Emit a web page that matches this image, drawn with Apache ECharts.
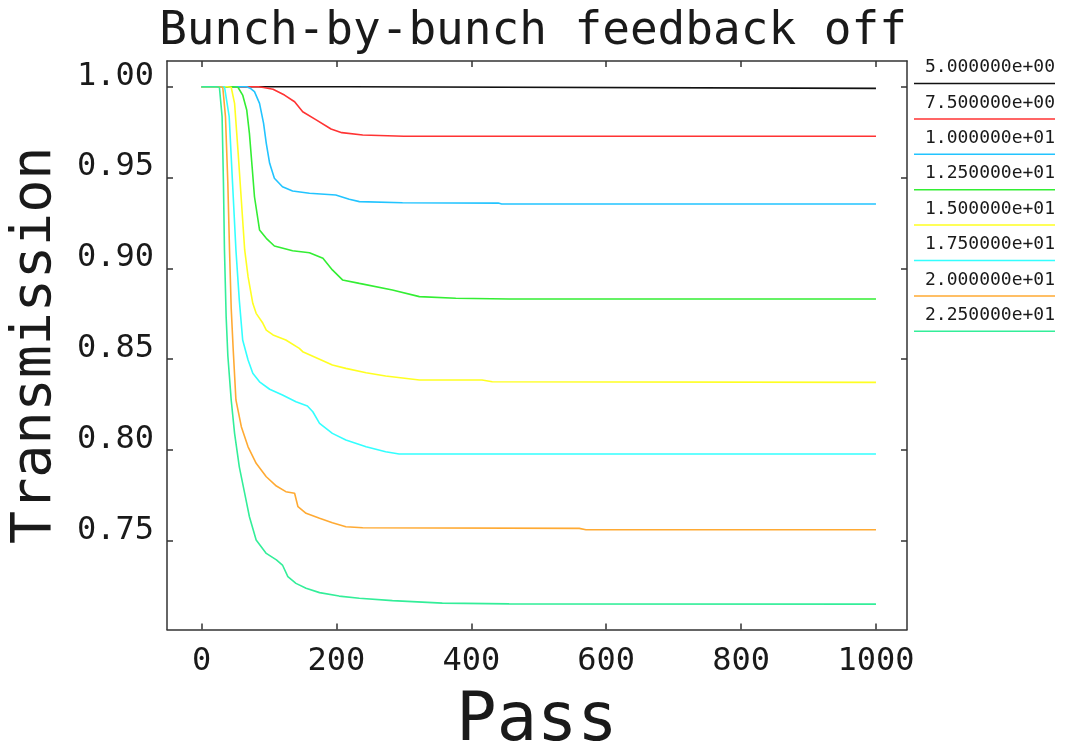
<!DOCTYPE html>
<html>
<head>
<meta charset="utf-8">
<script src="https://cdn.jsdelivr.net/npm/echarts@6/dist/echarts.min.js"></script>
<style>
  html, body { margin: 0; padding: 0; background: #ffffff; }
  #chart { width: 1066px; height: 751px; }
</style>
</head>
<body>
<div id="chart"></div>
<script>
// Transmission vs. pass number, one curve per setting (legend labels).
const seriesNames = ['5.000000e+00', '7.500000e+00', '1.000000e+01', '1.250000e+01',
                     '1.500000e+01', '1.750000e+01', '2.000000e+01', '2.250000e+01'];
const lineColors = ['#111111', '#ff3333', '#22c4ff', '#33ee33',
                    '#ffff22', '#33ffff', '#ffaa33', '#33ee99'];

const xTicks = [0, 200, 400, 600, 800, 1000];
const yTicks = [0.75, 0.80, 0.85, 0.90, 0.95, 1.00];

// [pass, transmission]
const curve05 = [[0, 1.0], [220, 1.0], [222, 0.9991], [1000, 0.9991]];
const curve075 = [[0, 1.0], [84, 1.0], [92, 0.9996], [106, 0.9986], [123, 0.9954], [138, 0.9917],
  [150, 0.9862], [170, 0.9817], [192, 0.9767], [208, 0.9747], [239, 0.9734], [300, 0.9727], [1000, 0.9727]];
const curve10 = [[0, 1.0], [67, 1.0], [72, 0.9992], [78.5, 0.9973], [86, 0.9908], [92, 0.9798],
  [96, 0.9688], [101, 0.9578], [108, 0.9496], [120, 0.9449], [135, 0.9426], [160, 0.9413],
  [199, 0.9404], [219, 0.9380], [234, 0.9367], [298, 0.9361], [440, 0.9359], [445, 0.9354], [1000, 0.9354]];
const curve125 = [[0, 1.0], [46, 1.0], [54, 0.9997], [61, 0.9954], [67, 0.9872], [71, 0.9743],
  [75, 0.9559], [78.5, 0.9394], [86, 0.9211], [96, 0.9165], [108, 0.9123], [135, 0.9097],
  [160, 0.9086], [180, 0.9055], [194, 0.8991], [209, 0.8936], [234, 0.8917], [283, 0.8880],
  [323, 0.8844], [377, 0.8835], [456, 0.8831], [1000, 0.8831]];
const curve15 = [[0, 1.0], [38, 1.0], [44, 0.9997], [49, 0.9908], [54, 0.9651], [59, 0.9376],
  [64, 0.9101], [69, 0.8954], [76, 0.8807], [81, 0.8752], [91, 0.8697], [96, 0.8660],
  [106, 0.8633], [125, 0.8605], [145, 0.8559], [150, 0.8541], [175, 0.8499], [194, 0.8467],
  [214, 0.8449], [244, 0.8425], [273, 0.8407], [323, 0.8385], [416, 0.8385], [431, 0.8375], [1000, 0.8372]];
const curve175 = [[0, 1.0], [34, 1.0], [36.5, 0.9997], [41, 0.9835], [46, 0.9468], [51, 0.9101],
  [56, 0.8825], [61, 0.8605], [69, 0.8495], [76, 0.8422], [86, 0.8375], [101, 0.8334],
  [120, 0.8302], [140, 0.8265], [157, 0.8242], [165, 0.8210], [175, 0.8146], [194, 0.8091],
  [214, 0.8054], [244, 0.8017], [273, 0.7990], [293, 0.7977], [1000, 0.7977]];
const curve20 = [[0, 1.0], [27, 1.0], [31.5, 0.9997], [35.5, 0.9835], [39, 0.9468], [41.5, 0.9101],
  [44, 0.8780], [47, 0.8550], [51, 0.8275], [59, 0.8128], [69, 0.8017], [81, 0.7926],
  [96, 0.7852], [111, 0.7801], [125, 0.7770], [138, 0.7761], [143, 0.7687], [155, 0.7651],
  [175, 0.7623], [194, 0.7599], [214, 0.7577], [239, 0.7571], [560, 0.7568], [570, 0.7560], [1000, 0.7560]];
const curve225 = [[0, 1.0], [22, 1.0], [26.5, 0.9997], [30.5, 0.9835], [32.5, 0.9468], [34, 0.9101],
  [36.5, 0.8733], [39, 0.8520], [44, 0.8275], [49, 0.8091], [56, 0.7907], [64, 0.7761],
  [71, 0.7632], [81, 0.7504], [96, 0.7430], [111, 0.7394], [120, 0.7366], [128, 0.7302],
  [140, 0.7265], [155, 0.7238], [175, 0.7214], [204, 0.7195], [234, 0.7183], [283, 0.7170],
  [357, 0.7156], [456, 0.7152], [1000, 0.7151]];

const curves = [curve05, curve075, curve10, curve125, curve15, curve175, curve20, curve225];

const MONO = '"DejaVu Sans Mono", "Liberation Mono", monospace';
const INK = '#1a1a1a';
const FRAME = '#333333';

// legend: label with a coloured rule underneath
const legendRich = {
  t: { fontFamily: MONO, fontSize: 18, color: INK, width: 141, align: 'right', lineHeight: 22 }
};
lineColors.forEach((c, i) => {
  legendRich['l' + i] = { width: 141, height: 0, borderColor: c, borderWidth: 1.5, lineHeight: 10 };
});

function frameAxis(pos, ticks, min, max, showLabel) {
  return {
    type: 'value',
    position: pos,
    min: min,
    max: max,
    splitLine: { show: false },
    axisLine: { show: true, onZero: false, lineStyle: { color: FRAME, width: 1.5 } },
    axisTick: { show: true, inside: true, length: 6, customValues: ticks,
                lineStyle: { color: FRAME, width: 1.5 } },
    axisLabel: { show: showLabel, customValues: ticks }
  };
}

const X_MIN = -51.2, X_MAX = 1046;
const Y_MIN = 0.7011, Y_MAX = 1.01415;

const xBottom = frameAxis('bottom', xTicks, X_MIN, X_MAX, true);
Object.assign(xBottom.axisLabel, {
  fontFamily: MONO, fontSize: 32, color: INK, margin: 16, lineHeight: 32,
  formatter: v => String(Math.round(v))
});
Object.assign(xBottom, {
  name: 'Pass', nameLocation: 'middle', nameGap: 60,
  nameTextStyle: { fontFamily: MONO, fontSize: 67, color: INK, lineHeight: 67 }
});
const xTop = frameAxis('top', xTicks, X_MIN, X_MAX, false);

const yLeft = frameAxis('left', yTicks, Y_MIN, Y_MAX, true);
Object.assign(yLeft.axisLabel, {
  fontFamily: MONO, fontSize: 32, color: INK, margin: 13, lineHeight: 21,
  verticalAlign: 'bottom', formatter: v => v.toFixed(2)
});
Object.assign(yLeft, {
  name: 'Transmission', nameLocation: 'middle', nameGap: 104, nameRotate: 90,
  nameTextStyle: { fontFamily: MONO, fontSize: 55, color: INK, lineHeight: 55 }
});
const yRight = frameAxis('right', yTicks, Y_MIN, Y_MAX, false);

const chart = echarts.init(document.getElementById('chart'), null, { renderer: 'canvas' });
chart.setOption({
  animation: false,
  backgroundColor: '#ffffff',
  title: {
    text: 'Bunch-by-bunch feedback off',
    left: 'center',
    top: 4,
    textStyle: { fontFamily: MONO, fontSize: 46, fontWeight: 'normal', color: INK, lineHeight: 46 }
  },
  grid: { left: 167, right: 159, top: 61, bottom: 121.5, containLabel: false, outerBoundsMode: 'none' },
  legend: {
    orient: 'vertical',
    left: 904,
    top: 53.5,
    itemGap: 4.4,
    itemWidth: 0,
    itemHeight: 0,
    icon: 'none',
    selectedMode: false,
    data: seriesNames,
    formatter: name => '{t|' + name + '}\n{l' + seriesNames.indexOf(name) + '|}',
    textStyle: { rich: legendRich }
  },
  xAxis: [xBottom, xTop],
  yAxis: [yLeft, yRight],
  series: curves.map((d, i) => ({
    name: seriesNames[i],
    type: 'line',
    xAxisIndex: 0,
    yAxisIndex: 0,
    data: d,
    showSymbol: false,
    symbol: 'none',
    smooth: false,
    color: lineColors[i],
    lineStyle: { color: lineColors[i], width: 1.6 },
    emphasis: { disabled: true }
  }))
});
</script>
</body>
</html>
